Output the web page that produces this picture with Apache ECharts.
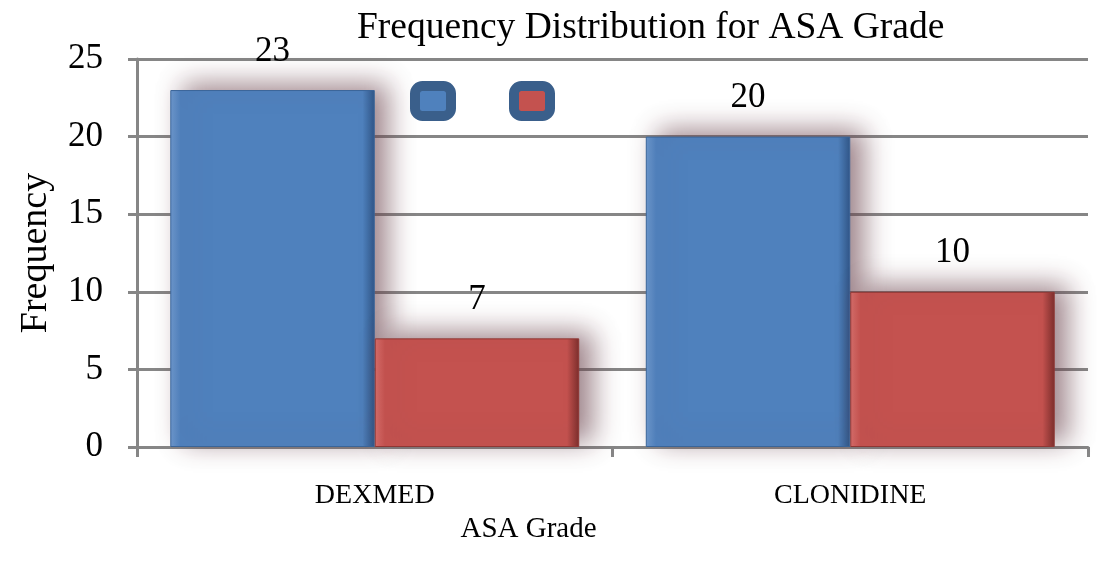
<!DOCTYPE html>
<html>
<head>
<meta charset="utf-8">
<script src="https://cdn.jsdelivr.net/npm/echarts@6/dist/echarts.min.js"></script>
<style>
  html, body { margin: 0; padding: 0; background: #fff; }
  #chart { width: 1106px; height: 570px; }
</style>
</head>
<body>
<div id="chart"></div>
<script>
  // values
  const categories = ["DEXMED", "CLONIDINE"];
  const seriesNames = ["Series 1", "Series 2"];
  const series1 = [23, 20];
  const series2 = [7, 10];
  const yTicks = [0, 5, 10, 15, 20, 25];

  const FONT = "Liberation Serif";
  const AXIS_GREY = "#868686";

  const COL_BLUE = "#4f81bd";
  const COL_RED = "#c4524f";

  function bevel(base, light, dark) {
    // rough stand-in for the office bevel: light left edge, dark right edge
    return {
      type: "linear", x: 0, y: 0, x2: 1, y2: 0,
      colorStops: [
        { offset: 0, color: light },
        { offset: 0.05, color: base },
        { offset: 0.94, color: base },
        { offset: 1, color: dark }
      ]
    };
  }

  function barSeries(name, data, base, light, dark, border) {
    return {
      name: name,
      type: "bar",
      data: data,
      barGap: "0%",
      barCategoryGap: "14%",
      itemStyle: {
        color: bevel(base, light, dark),
        borderColor: border,
        borderWidth: 1,
        shadowBlur: 26,
        shadowColor: "rgba(105,65,75,0.65)",
        shadowOffsetX: 13,
        shadowOffsetY: -6
      },
      label: {
        show: true,
        position: "top",
        distance: 21,
        color: "#000",
        fontFamily: FONT,
        fontSize: 35
      }
    };
  }

  const chart = echarts.init(document.getElementById("chart"), null, { renderer: "canvas" });

  chart.setOption({
    animation: false,
    backgroundColor: "#ffffff",
    textStyle: { fontFamily: FONT },

    title: {
      text: "Frequency Distribution for ASA Grade",
      left: 357,
      top: 9,
      padding: 0,
      textStyle: { fontFamily: FONT, fontWeight: "normal", fontSize: 37.5, color: "#000" }
    },

    legend: {
      data: seriesNames,
      left: 405,
      top: 76,
      itemWidth: 36,
      itemHeight: 30,
      itemGap: 53,
      icon: "roundRect",
      formatter: function () { return ""; },
      itemStyle: { borderColor: "#3a5f8b", borderWidth: 10 },
      selectedMode: false
    },

    grid: { left: 137, right: 18, top: 59, bottom: 123, containLabel: false },

    xAxis: {
      type: "category",
      data: categories,
      name: "ASA Grade",
      nameLocation: "middle",
      nameGap: 66,
      nameTextStyle: { fontFamily: FONT, fontSize: 29, color: "#000", padding: [0, 168, 0, 0] },
      axisLine: { lineStyle: { color: AXIS_GREY, width: 3 } },
      axisTick: { show: true, length: 10, lineStyle: { color: AXIS_GREY, width: 3 } },
      axisLabel: { margin: 35, fontFamily: FONT, fontSize: 28, color: "#000" }
    },

    yAxis: {
      type: "value",
      min: yTicks[0],
      max: yTicks[yTicks.length - 1],
      interval: yTicks[1] - yTicks[0],
      name: "Frequency",
      nameLocation: "middle",
      nameGap: 82,
      nameTextStyle: { fontFamily: FONT, fontSize: 38, color: "#000" },
      axisLine: { show: true, lineStyle: { color: AXIS_GREY, width: 3 } },
      axisTick: { show: true, length: 9, lineStyle: { color: AXIS_GREY, width: 3 } },
      axisLabel: { margin: 34, fontFamily: FONT, fontSize: 35, color: "#000" },
      splitLine: { show: true, lineStyle: { color: AXIS_GREY, width: 3 } }
    },

    series: [
      barSeries(seriesNames[0], series1, COL_BLUE, "#6d97cc", "#2f5688", "#3a6599"),
      barSeries(seriesNames[1], series2, COL_RED, "#d66d6a", "#7c2e2c", "#8f3734")
    ]
  });
</script>
</body>
</html>
